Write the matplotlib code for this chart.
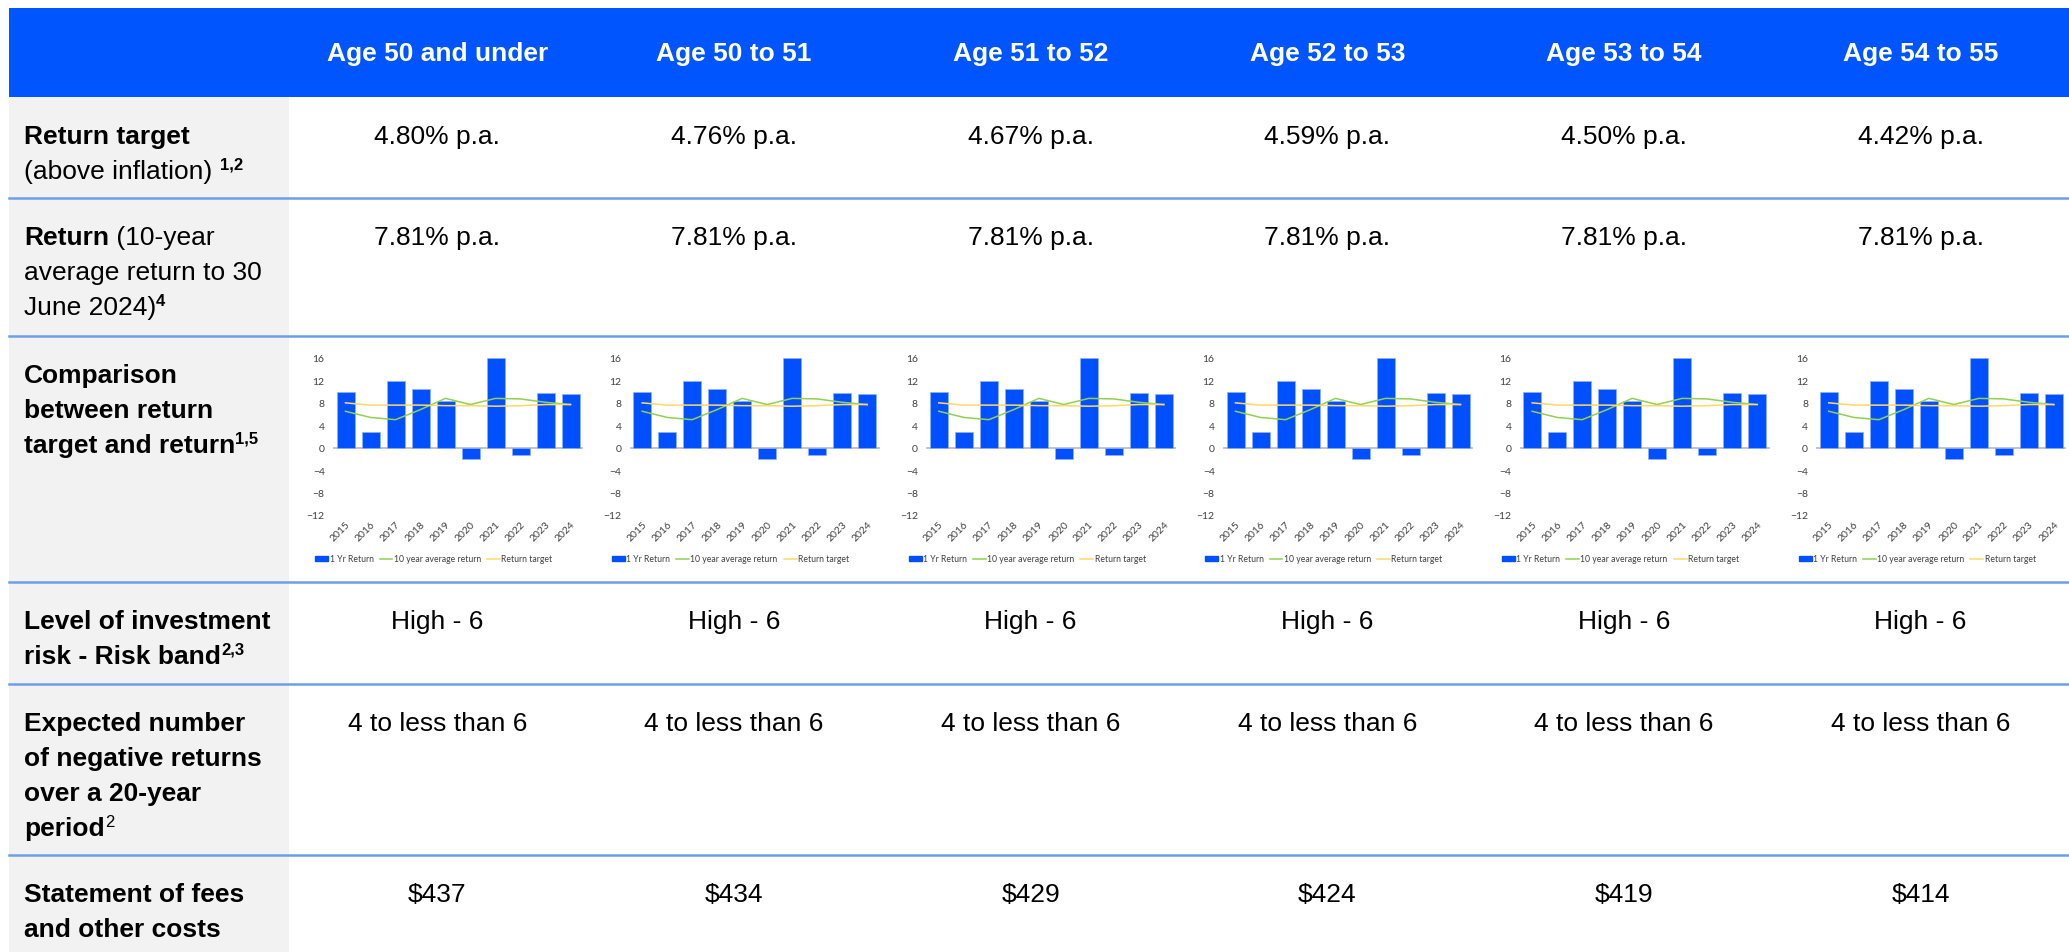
import matplotlib.pyplot as plt
from matplotlib.patches import Rectangle, Patch
from matplotlib.lines import Line2D

W, H = 2069, 953

# table data
ages = ['Age 50 and under', 'Age 50 to 51', 'Age 51 to 52', 'Age 52 to 53', 'Age 53 to 54', 'Age 54 to 55']
return_target = ['4.80% p.a.', '4.76% p.a.', '4.67% p.a.', '4.59% p.a.', '4.50% p.a.', '4.42% p.a.']
return_10yr = ['7.81% p.a.'] * 6
risk_band = ['High - 6'] * 6
neg_returns = ['4 to less than 6'] * 6
fees = ['$437', '$434', '$429', '$424', '$419', '$414']

# mini chart data (same for every column)
years = ['2015', '2016', '2017', '2018', '2019', '2020', '2021', '2022', '2023', '2024']
one_yr = [9.9, 2.8, 11.9, 10.4, 8.3, -2.0, 16.0, -1.3, 9.7, 9.5]
avg10 = [6.5, 5.4, 5.0, 6.8, 8.8, 7.7, 8.8, 8.7, 8.1, 7.7]
target = [8.0, 7.6, 7.6, 7.6, 7.5, 7.5, 7.4, 7.5, 7.7, 7.7]

BLUE = '#0055FF'
SEP = '#6D9EEB'
GREY = '#F2F2F2'
TFONT = 'Liberation Sans'
CFONT = 'Lato'

fig = plt.figure(figsize=(W / 100, H / 100), dpi=100)
renderer = fig.canvas.get_renderer()


def fx(x):
    return x / W


def fy(y):
    return 1 - y / H


def rect(x0, y0, x1, y1, color):
    fig.patches.append(Rectangle((fx(x0), fy(y1)), (x1 - x0) / W, (y1 - y0) / H,
                                 transform=fig.transFigure, color=color, lw=0, zorder=0))


rect(9, 9, W, 98, BLUE)
rect(9, 98, 289, H, GREY)

seps = [199, 337, 583, 685, 856]
for s in seps:
    fig.add_artist(Line2D([fx(9), 1], [fy(s), fy(s)], transform=fig.transFigure, color=SEP, lw=1.8))

col_w = (W - 289) / 6
centers = [289 + col_w * (i + 0.5) for i in range(6)]

for c, a in zip(centers, ages):
    fig.text(fx(c), fy(54), a, ha='center', va='center', color='white', fontsize=19,
             fontweight='bold', family=TFONT)


def width_of(s, weight, size):
    t = fig.text(0, 0, 'x' + s + 'x', fontsize=size, fontweight=weight, family=TFONT)
    t2 = fig.text(0, 0, 'xx', fontsize=size, fontweight=weight, family=TFONT)
    w = t.get_window_extent(renderer).width - t2.get_window_extent(renderer).width
    t.remove()
    t2.remove()
    return w


def draw_line(runs, x, base):
    # runs: (text, weight, superscript?)
    for txt, weight, sup in runs:
        size = 12 if sup else 19
        yb = base - 9 if sup else base
        fig.text(fx(x), fy(yb), txt, fontsize=size, fontweight=weight, family=TFONT,
                 va='baseline', ha='left', color='black')
        x += width_of(txt, weight, size)


labels = [
    [[('Return target', 'bold', False)],
     [('(above inflation) ', 'normal', False), ('1,2', 'bold', True)]],
    [[('Return', 'bold', False), (' (10-year', 'normal', False)],
     [('average return to 30', 'normal', False)],
     [('June 2024)', 'normal', False), ('4', 'bold', True)]],
    [[('Comparison', 'bold', False)],
     [('between return', 'bold', False)],
     [('target and return', 'bold', False), ('1,5', 'bold', True)]],
    [[('Level of investment', 'bold', False)],
     [('risk - Risk band', 'bold', False), ('2,3', 'bold', True)]],
    [[('Expected number', 'bold', False)],
     [('of negative returns', 'bold', False)],
     [('over a 20-year', 'bold', False)],
     [('period', 'bold', False), ('2', 'normal', True)]],
    [[('Statement of fees', 'bold', False)],
     [('and other costs', 'bold', False)]],
]
row_tops = [98] + seps
for top, lines in zip(row_tops, labels):
    for k, ln in enumerate(lines):
        draw_line(ln, 24, top + 46 + 35 * k)

value_rows = {0: return_target, 1: return_10yr, 3: risk_band, 4: neg_returns, 5: fees}
for r, vals in value_rows.items():
    for c, v in zip(centers, vals):
        fig.text(fx(c), fy(row_tops[r] + 46), v, ha='center', va='baseline', fontsize=19,
                 family=TFONT, color='black', parse_math=False)

# mini charts
xs = list(range(len(years)))
for i in range(6):
    left = 333 + col_w * i
    ax = fig.add_axes([fx(left), fy(516), 250 / W, 157 / H])
    ax.bar(xs, one_yr, width=0.72, color='#0050FF', edgecolor='#8FB0FF', linewidth=0.5, zorder=2)
    ax.plot(xs, avg10, color='#92D050', lw=1.1, zorder=3)
    ax.plot(xs, target, color='#FFD966', lw=1.1, zorder=3)
    ax.axhline(0, color='#BFBFBF', lw=1.3, zorder=1)
    ax.set_xlim(-0.5, 9.5)
    ax.set_ylim(-12, 16)
    ax.set_yticks(range(-12, 17, 4))
    ax.set_xticks(xs)
    ax.set_xticklabels(years, rotation=45, ha='right', rotation_mode='anchor')
    for s in ax.spines.values():
        s.set_visible(False)
    ax.tick_params(length=0, labelsize=7.5, colors='#404040', pad=6)
    ax.tick_params(axis='x', pad=3)
    for t in ax.get_xticklabels() + ax.get_yticklabels():
        t.set_family(CFONT)
    ax.patch.set_alpha(0)
    handles = [Patch(color='#0050FF', label='1 Yr Return'),
               Line2D([], [], color='#92D050', lw=1.1, label='10 year average return'),
               Line2D([], [], color='#FFD966', lw=1.1, label='Return target')]
    ax.legend(handles=handles, loc='center left', bbox_to_anchor=(fx(left - 22), fy(560)),
              bbox_transform=fig.transFigure, ncol=3, frameon=False, handlelength=1.5,
              handleheight=0.6, handletextpad=0.15, columnspacing=0.7,
              prop={'family': CFONT, 'size': 6.2}, labelcolor='#404040', borderpad=0)

fig.savefig('out.png', dpi=100)
